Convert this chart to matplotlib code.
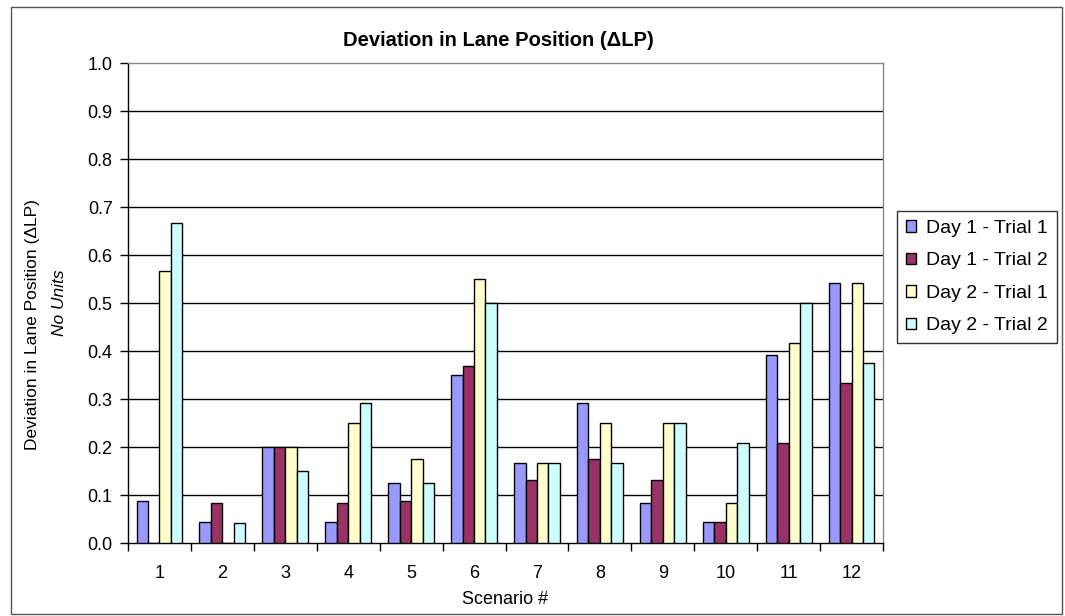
import matplotlib
matplotlib.use("Agg")
import matplotlib.pyplot as plt
from matplotlib.patches import Rectangle
import numpy as np

plt.rcParams['font.family'] = ['Liberation Sans', 'DejaVu Sans']

scenarios = [str(i) for i in range(1, 13)]
series_names = ["Day 1 - Trial 1", "Day 1 - Trial 2", "Day 2 - Trial 1", "Day 2 - Trial 2"]
day1_trial1 = [0.088, 0.044, 0.200, 0.044, 0.126, 0.350, 0.167, 0.292, 0.083, 0.044, 0.391, 0.541]
day1_trial2 = [0.000, 0.083, 0.200, 0.083, 0.088, 0.369, 0.131, 0.175, 0.131, 0.044, 0.208, 0.334]
day2_trial1 = [0.567, 0.000, 0.200, 0.250, 0.175, 0.550, 0.167, 0.250, 0.250, 0.083, 0.416, 0.541]
day2_trial2 = [0.667, 0.042, 0.151, 0.292, 0.126, 0.500, 0.167, 0.167, 0.250, 0.208, 0.500, 0.374]
colors = ["#9999FF", "#993366", "#FFFFCC", "#CCFFFF"]
yticks = [round(0.1 * i, 1) for i in range(11)]

W, H = 1065, 616
fig = plt.figure(figsize=(W / 100, H / 100), dpi=100)
fig.patch.set_facecolor("white")

# outer chart border
fig.add_artist(Rectangle((11 / W, 2 / H), 1051 / W, 607 / H, transform=fig.transFigure,
                         fill=False, edgecolor="#555555", linewidth=1.0))

left, right, top, bottom = 128, 883, 63, 543
ax = fig.add_axes([left / W, 1 - bottom / H, (right - left) / W, (bottom - top) / H])

series = [day1_trial1, day1_trial2, day2_trial1, day2_trial2]
n = len(series)
x = np.arange(len(scenarios))
bw = 1 / 5.5
for i, (vals, name, c) in enumerate(zip(series, series_names, colors)):
    offs = (i - (n - 1) / 2) * bw
    ax.bar(x + offs, vals, width=bw, color=c, edgecolor="black", linewidth=1.0,
           label=name, zorder=3)

ax.set_xlim(-0.5, len(scenarios) - 0.5)
ax.set_ylim(0, 1.0)
ax.set_yticks(yticks)
ax.set_yticklabels([f"{v:.1f}" for v in yticks], fontsize=13)
ax.set_xticks(x)
ax.set_xticklabels(scenarios, fontsize=13)
ax.set_xticks(np.arange(-0.5, len(scenarios), 1.0), minor=True)
ax.tick_params(axis="x", which="major", length=0, pad=16)
ax.tick_params(axis="x", which="minor", length=6, width=1.0, direction="out")
ax.tick_params(axis="y", length=6, width=1.0, direction="out", pad=5)

for v in yticks[1:-1]:
    ax.axhline(v, color="black", linewidth=1.0, zorder=1)

ax.spines["top"].set_color("#888888")
ax.spines["right"].set_color("#888888")
for s in ax.spines.values():
    s.set_linewidth(1.0)

ax.set_xlabel("Scenario #", fontsize=13, labelpad=6)

fig.text(498 / W, 1 - 40 / H, "Deviation in Lane Position (\u0394LP)", ha="center", va="center",
         fontsize=14.5, fontweight="bold")
fig.text(33 / W, 1 - 325 / H, "Deviation in Lane Position (\u0394LP)", rotation=90,
         ha="center", va="center", fontsize=12.5)
fig.text(60 / W, 1 - 303 / H, "No Units", rotation=90, ha="center", va="center",
         fontsize=12.5, style="italic")

leg = fig.legend(loc="upper left", bbox_to_anchor=(897 / W, 1 - 211 / H), fontsize=14,
                 frameon=True, fancybox=False, edgecolor="black", handlelength=0.55,
                 handleheight=0.55, handletextpad=0.5, labelspacing=0.8, borderpad=0.45,
                 borderaxespad=0)
leg.get_frame().set_linewidth(1.0)

fig.savefig("out.png", dpi=100, facecolor="white")
